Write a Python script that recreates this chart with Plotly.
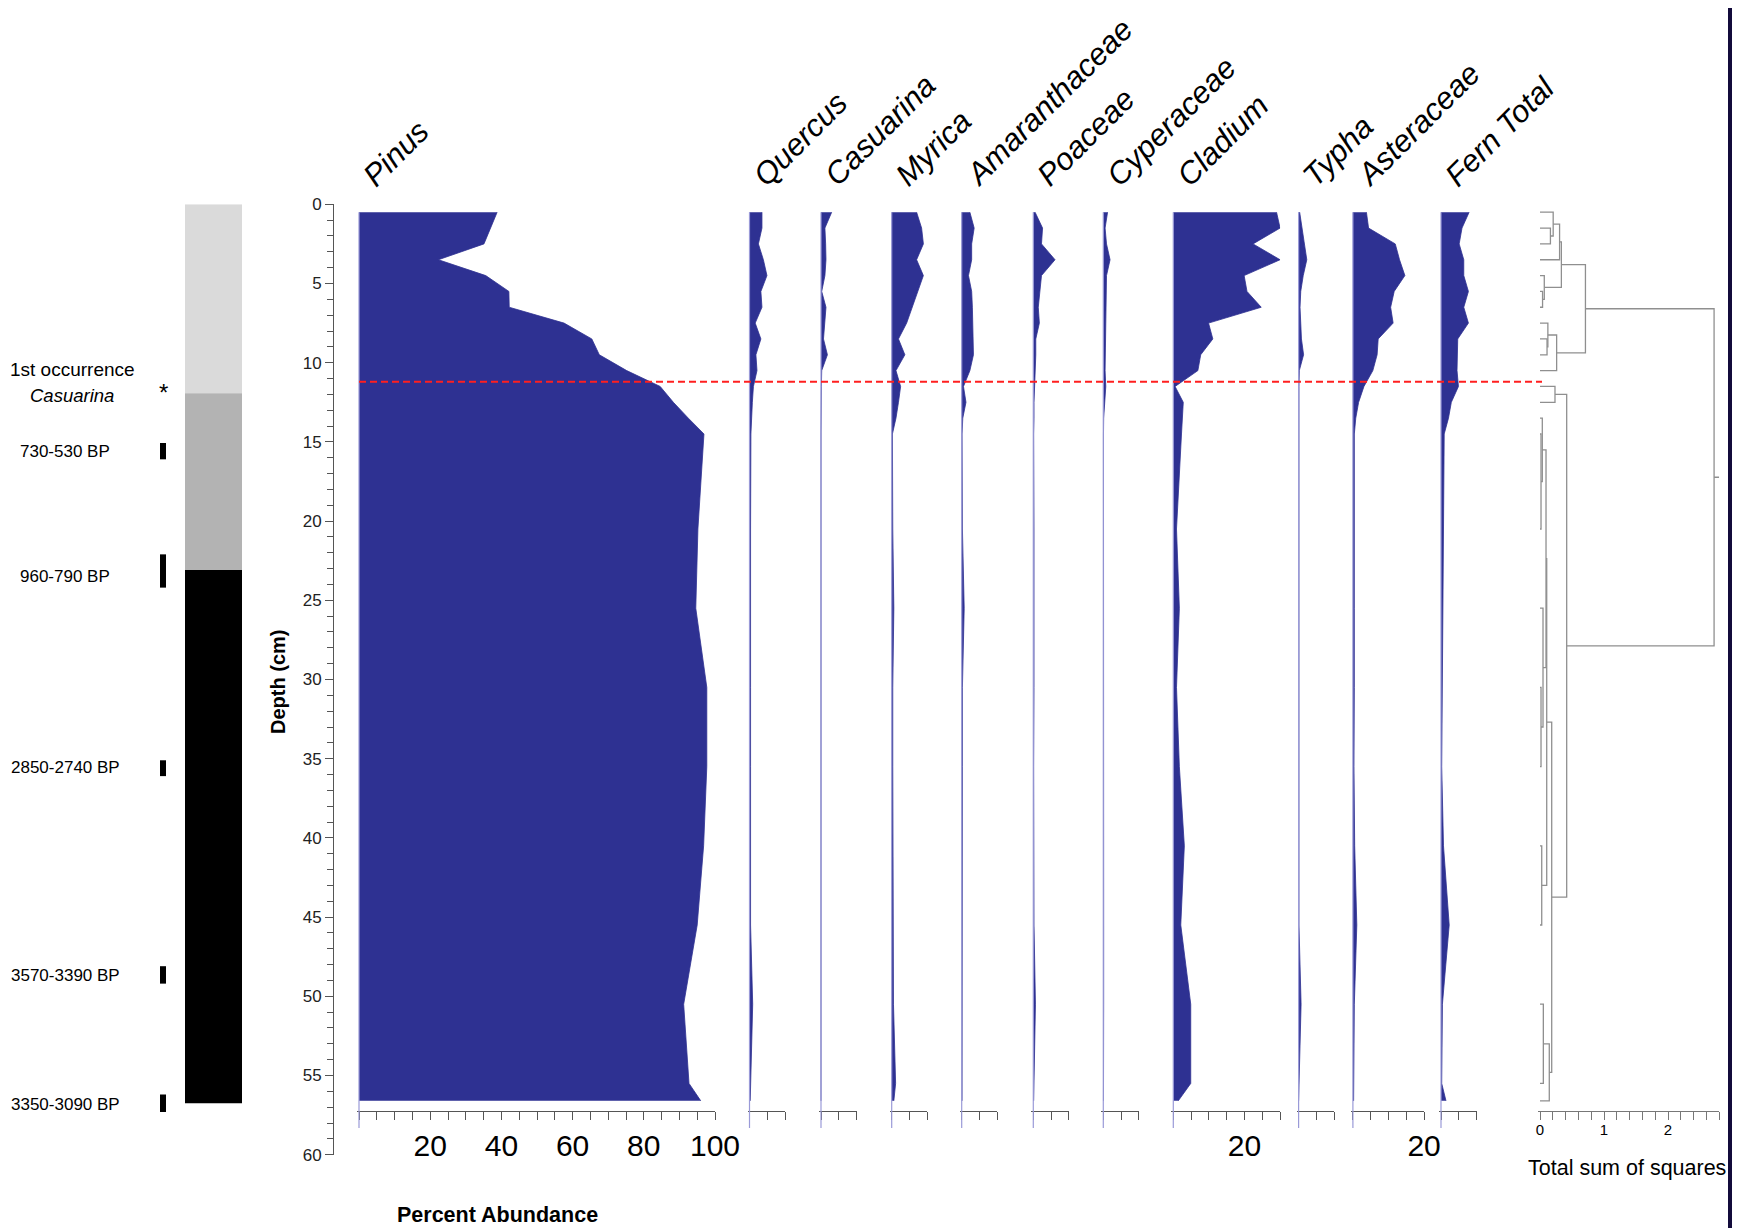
import plotly.graph_objects as go

# ---------------- data ----------------
depths = [0.5, 1.5, 2.5, 3.5, 4.5, 5.5, 6.5, 7.5, 8.5, 9.5, 10.5, 11.5, 12.5, 13.5, 14.5,
          20.5, 25.5, 30.5, 35.5, 40.5, 45.5, 50.5, 55.5, 56.6]

pinus = [38.8, 36.9, 35.1, 22.3, 35.6, 42.1, 42.2, 57.6, 65.4, 67.5, 75.2, 84.6, 88.3, 92.5, 96.9,
         95.2, 94.6, 97.7, 97.7, 96.8, 95.0, 91.2, 92.7, 96.0]
quercus = [3.5, 3.5, 2.5, 3.9, 4.9, 3.2, 3.5, 1.6, 3.2, 1.8, 2.1, 1.1, 0.8, 0.7, 0.4,
           0.3, 0.4, 0.3, 0.3, 0.4, 0.3, 0.9, 0.3, 0.2]
casuarina = [3.0, 1.1, 1.3, 1.4, 1.1, 0.2, 1.4, 1.1, 0.7, 1.8, 0.2, 0.1, 0.0, 0.0, 0.0,
             0.0, 0.0, 0.0, 0.0, 0.0, 0.0, 0.0, 0.0, 0.0]
myrica = [7.0, 8.4, 8.9, 7.0, 8.9, 7.3, 5.6, 4.2, 1.9, 3.7, 1.2, 2.5, 1.9, 1.2, 0.2,
          0.3, 0.6, 0.3, 0.3, 0.4, 0.3, 0.5, 1.1, 0.6]
amaranthaceae = [2.3, 3.5, 2.8, 2.8, 1.9, 2.8, 3.0, 3.1, 3.3, 3.3, 2.3, 0.5, 1.2, 0.3, 0.1,
                 0.2, 0.7, 0.2, 0.2, 0.2, 0.2, 0.2, 0.2, 0.1]
poaceae = [0.5, 2.6, 2.3, 6.1, 2.3, 1.9, 1.4, 1.7, 0.7, 0.7, 0.5, 0.3, 0.2, 0.2, 0.1,
           0.2, 0.3, 0.2, 0.1, 0.2, 0.2, 0.6, 0.2, 0.1]
cyperaceae = [1.2, 0.5, 0.9, 1.9, 0.9, 0.8, 0.7, 0.7, 0.7, 0.6, 0.5, 0.7, 0.3, 0.1, 0.05,
              0.1, 0.1, 0.1, 0.1, 0.1, 0.1, 0.1, 0.1, 0.05]
cladium = [29.0, 30.0, 22.4, 30.0, 19.9, 20.7, 24.7, 9.9, 11.1, 7.7, 6.9, 0.5, 2.8, 2.6, 2.3,
           0.9, 1.7, 0.9, 1.7, 3.1, 2.1, 4.9, 4.9, 1.4]
typha = [0.3, 1.0, 1.6, 2.3, 1.3, 0.6, 0.4, 0.5, 0.8, 1.4, 0.2, 0.1, 0.1, 0.1, 0.1,
         0.1, 0.1, 0.1, 0.1, 0.1, 0.1, 0.7, 0.1, 0.0]
asteraceae = [3.8, 4.4, 11.9, 13.1, 14.6, 11.6, 10.6, 11.3, 7.1, 6.8, 5.6, 3.1, 1.6, 0.8, 0.4,
              0.5, 0.4, 0.4, 0.3, 0.5, 1.1, 0.4, 0.3, 0.2]
fern_total = [7.9, 5.9, 5.1, 6.4, 6.4, 7.7, 6.4, 7.7, 4.7, 4.5, 4.5, 4.9, 2.9, 2.1, 0.9,
              0.7, 0.5, 0.3, 0.2, 0.7, 2.3, 0.4, 0.2, 1.4]

taxa = ["Pinus", "Quercus", "Casuarina", "Myrica", "Amaranthaceae", "Poaceae",
        "Cyperaceae", "Cladium", "Typha", "Asteraceae", "Fern Total"]
series = [pinus, quercus, casuarina, myrica, amaranthaceae, poaceae,
          cyperaceae, cladium, typha, asteraceae, fern_total]
axis_max = [100, 10, 10, 10, 10, 10, 10, 30, 10, 20, 10]
labelled_ticks = [[20, 40, 60, 80, 100], [], [], [], [], [], [], [20], [], [20], []]

# CONISS dendrogram: leaves = samples (index into depths); merges (a, b, height)
dend_merges = [
    (1, 2, 0.163), (0, 24, 0.206), (25, 3, 0.306), (5, 6, 0.040), (4, 27, 0.067),
    (26, 28, 0.334), (8, 9, 0.110), (7, 30, 0.123), (31, 10, 0.260), (29, 32, 0.710),
    (11, 12, 0.234), (14, 15, 0.016), (13, 35, 0.036), (17, 18, 0.016), (16, 37, 0.047),
    (36, 38, 0.094), (19, 20, 0.027), (39, 40, 0.105), (21, 22, 0.052), (42, 23, 0.145),
    (41, 43, 0.183), (34, 44, 0.417), (33, 45, 2.720),
]
dend_max = 2.8
dend_ticks = [0, 0.2, 0.4, 0.6, 0.8, 1.0, 1.2, 1.4, 1.6, 1.8, 2.0, 2.2, 2.4, 2.6, 2.8]
dend_tick_labels = {0: "0", 1.0: "1", 2.0: "2"}

# lithology column and dates
litho_top = [0.0, 11.93, 23.09]
litho_bottom = [11.93, 23.09, 56.75]
litho_color = ["#dadada", "#b3b3b3", "#000000"]

date_labels = ["730-530 BP", "960-790 BP", "2850-2740 BP", "3570-3390 BP", "3350-3090 BP"]
date_label_depth = [15.6, 23.5, 35.55, 48.7, 56.85]
date_bar_top = [15.07, 22.1, 35.1, 48.1, 56.2]
date_bar_bottom = [16.1, 24.2, 36.1, 49.2, 57.3]
casuarina_first = 11.6
zone_boundary = 11.2

# ---------------- layout geometry (screen pixels) ----------------
OFF = 8            # page margin around the figure
FW, FH = 1732, 1220
DEPTH_TOP_PX = 204.3
PX_PER_CM = 15.84
DEPTH_MAX = 60
AXIS_Y_PX = 1110.7
PX_PER_PCT = 3.56
panel_base_px = [359, 749.5, 821, 891.7, 961.7, 1033.3, 1103.3, 1173.3, 1298.6, 1352.9, 1441]
DEND_BASE_PX = 1540
DEND_PX_PER_UNIT = 64
DEPTH_AXIS_PX = 333
FRAME_RIGHT_PX = 1728

FILL = "#2e3192"
BASE_LINE = "#9a9ad8"
AX_COL = "#555555"
FRAME = "#130b3b"
FONT = "Liberation Sans, Arial, sans-serif"


def fx(px):
    return (px - OFF) / FW


def fy(px):
    return 1 - (px - OFF) / FH


y_dom = [fy(DEPTH_TOP_PX + DEPTH_MAX * PX_PER_CM), fy(DEPTH_TOP_PX)]
ax_pos = fy(AXIS_Y_PX)

fig = go.Figure()
layout = dict(
    width=FW, height=FH, margin=dict(l=0, r=0, t=0, b=0, pad=0, autoexpand=False),
    paper_bgcolor="white", plot_bgcolor="rgba(0,0,0,0)", autosize=False,
    showlegend=False, font=dict(family=FONT, color="black"),
)
shapes = []
annotations = []

layout["yaxis"] = dict(
    domain=y_dom, range=[DEPTH_MAX, 0], anchor="free", position=fx(DEPTH_AXIS_PX),
    showline=True, linecolor=AX_COL, linewidth=1, ticks="outside", ticklen=8,
    tickcolor=AX_COL, tick0=0, dtick=5, tickfont=dict(size=17, color="#222"),
    minor=dict(dtick=1, ticks="outside", ticklen=6, tickcolor=AX_COL),
    showgrid=False, zeroline=False, fixedrange=True, automargin=False,
)

PAD_PX = 2.0
for i, (name, vals, base, vmax, lab) in enumerate(zip(taxa, series, panel_base_px, axis_max, labelled_ticks)):
    key = "xaxis" if i == 0 else f"xaxis{i + 1}"
    ref = "x" if i == 0 else f"x{i + 1}"
    tv = list(range(0, vmax + 1, 5))
    tt = [str(v) if v in lab else "" for v in tv]
    layout[key] = dict(
        domain=[fx(base - PAD_PX), fx(base + vmax * PX_PER_PCT)],
        range=[-PAD_PX / PX_PER_PCT, vmax], anchor="free", position=ax_pos,
        showline=True, linecolor=AX_COL, linewidth=1, ticks="outside", ticklen=8,
        tickcolor=AX_COL, tickvals=tv, ticktext=tt, tickfont=dict(size=30, color="black"),
        ticklabelstandoff=0, showgrid=False, zeroline=False, fixedrange=True,
        automargin=False,
    )
    fig.add_trace(go.Scatter(
        x=vals, y=depths, xaxis=ref, yaxis="y", mode="lines", fill="tozerox",
        fillcolor=FILL, line=dict(color=FILL, width=0.8), hoverinfo="skip",
    ))
    # baseline stub of each curve
    shapes.append(dict(type="line", xref=ref, yref="y", x0=0, x1=0, y0=depths[0],
                       y1=(1128 - DEPTH_TOP_PX) / PX_PER_CM,
                       line=dict(color=BASE_LINE, width=1.2), layer="above"))
    annotations.append(dict(
        text=f"<i>{name}</i>", xref="paper", yref="paper",
        x=fx(base - 6), y=fy(196), xanchor="left", yanchor="bottom",
        textangle=-45, showarrow=False, font=dict(size=31, color="black"),
    ))

# dendrogram
n = len(depths)
pos = {i: (0.0, d) for i, d in enumerate(depths)}
dx, dy = [], []
for k, (a, b, h) in enumerate(dend_merges):
    xa, ya = pos[a]
    xb, yb = pos[b]
    dx += [xa, h, h, xb, None]
    dy += [ya, ya, yb, yb, None]
    pos[n + k] = (h, (ya + yb) / 2)
root_h, root_y = pos[n + len(dend_merges) - 1]
dx += [root_h, dend_max, None]
dy += [root_y, root_y, None]

dref = f"x{len(taxa) + 1}"
layout[f"xaxis{len(taxa) + 1}"] = dict(
    domain=[fx(DEND_BASE_PX - PAD_PX), fx(DEND_BASE_PX + dend_max * DEND_PX_PER_UNIT)],
    range=[-PAD_PX / DEND_PX_PER_UNIT, dend_max], anchor="free", position=ax_pos,
    showline=True, linecolor="#777", linewidth=1, ticks="outside", ticklen=8,
    tickcolor="#777", tickvals=dend_ticks,
    ticktext=[dend_tick_labels.get(round(t, 1), "") for t in dend_ticks],
    tickfont=dict(size=15, color="black"), ticklabelstandoff=-3,
    showgrid=False, zeroline=False, fixedrange=True, automargin=False,
)
fig.add_trace(go.Scatter(x=dx, y=dy, xaxis=dref, yaxis="y", mode="lines",
                         line=dict(color="#8f8f8f", width=1.3), hoverinfo="skip"))

# zone boundary
shapes.append(dict(type="line", xref="paper", yref="y", x0=fx(359), x1=fx(1542),
                   y0=zone_boundary, y1=zone_boundary,
                   line=dict(color="#ff1f1f", width=2, dash="7px,4px"), layer="above"))

# lithology column
for t, b, c in zip(litho_top, litho_bottom, litho_color):
    shapes.append(dict(type="rect", xref="paper", yref="y", x0=fx(185), x1=fx(242),
                       y0=t, y1=b, fillcolor=c, line=dict(width=0), layer="below"))

# dates
for lab, ld, t, b in zip(date_labels, date_label_depth, date_bar_top, date_bar_bottom):
    shapes.append(dict(type="rect", xref="paper", yref="y", x0=fx(160), x1=fx(166),
                       y0=t, y1=b, fillcolor="black", line=dict(width=0), layer="below"))
    annotations.append(dict(text=lab, xref="paper", yref="y", x=fx(65), y=ld,
                            xanchor="center", yanchor="middle", showarrow=False,
                            font=dict(size=17, color="black")))

annotations.append(dict(text="*", xref="paper", yref="y", x=fx(163), y=casuarina_first,
                        xanchor="center", yanchor="middle", showarrow=False,
                        font=dict(size=24, color="black"), yshift=-4))
annotations.append(dict(text="1st occurrence", xref="paper", yref="y", x=fx(72), y=casuarina_first,
                        xanchor="center", yanchor="middle", showarrow=False, yshift=19,
                        font=dict(size=19, color="black")))
annotations.append(dict(text="<i>Casuarina</i>", xref="paper", yref="y", x=fx(72), y=casuarina_first,
                        xanchor="center", yanchor="middle", showarrow=False, yshift=-7,
                        font=dict(size=18.5, color="black")))

# axis titles
annotations.append(dict(text="<b>Depth (cm)</b>", xref="paper", yref="paper", x=fx(278), y=fy(682),
                        xanchor="center", yanchor="middle", textangle=-90, showarrow=False,
                        font=dict(size=20, color="black")))
annotations.append(dict(text="<b>Percent Abundance</b>", xref="paper", yref="paper", x=fx(497), y=fy(1215),
                        xanchor="center", yanchor="middle", showarrow=False,
                        font=dict(size=21.5, color="black")))
annotations.append(dict(text="Total sum of squares", xref="paper", yref="paper", x=fx(1627), y=fy(1168),
                        xanchor="center", yanchor="middle", showarrow=False,
                        font=dict(size=21.5, color="black")))

# dark frame strip on the right edge
shapes.append(dict(type="rect", xref="paper", yref="paper", x0=fx(FRAME_RIGHT_PX), x1=1,
                   y0=0, y1=1, fillcolor=FRAME, line=dict(width=0), layer="below"))

layout["shapes"] = shapes
layout["annotations"] = annotations
fig.update_layout(**layout)
fig.write_html("out.html")
